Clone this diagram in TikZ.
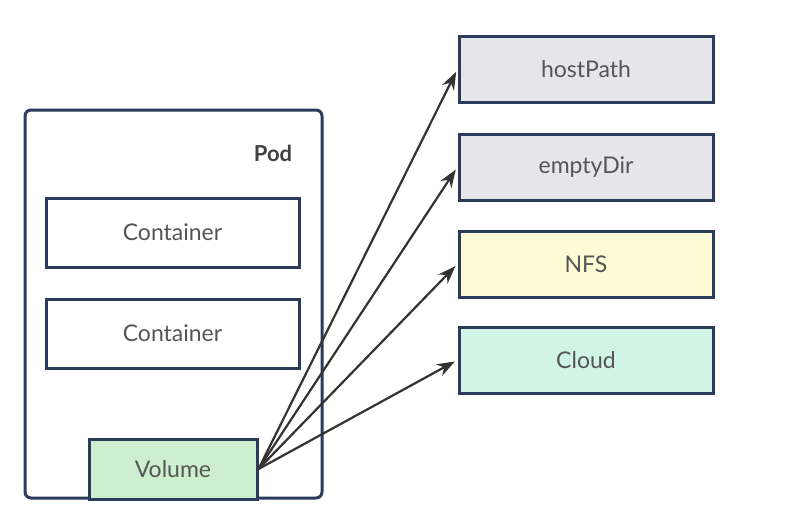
\documentclass[tikz,border=0pt]{standalone}
\usepackage{fontspec}
\setmainfont{Lato}
\usetikzlibrary{arrows.meta,positioning}
\definecolor{navy}{HTML}{2A3B5C}
\definecolor{txtgray}{HTML}{555555}
\definecolor{hostgray}{HTML}{E6E6EA}
\definecolor{nfsyellow}{HTML}{FFFAD6}
\definecolor{cloudgreen}{HTML}{D0F4E6}
\definecolor{volgreen}{HTML}{CDEFCF}
\tikzset{
diagram/.style={x=1pt,y=-1pt,line width=3pt,
    font=\fontsize{23}{27}\selectfont},
box/.style={rectangle,draw=navy,fill=white,text=txtgray,
    minimum width=253pt,minimum height=69pt,inner sep=0pt},
store/.style={box,minimum width=254pt,minimum height=66pt,fill=#1},
store/.default={hostgray},
pod/.style={rectangle,rounded corners=6pt,draw=navy,
    minimum width=297pt,minimum height=388pt},
link/.style={-{Stealth[length=18pt,width=13pt]},line width=2.2pt,
    draw=black!80,shorten >=3pt},
}
\begin{document}
\begin{tikzpicture}[diagram]
    \useasboundingbox (0,0) rectangle (794,522);

    \node[pod] (pod) at (173.5,304) {};
    \node[text=black!75,font=\fontsize{22}{26}\selectfont\bfseries]
        (podlabel) at (273,153) {Pod};
    \node[box] (c1) at (172.5,232.5) {Container};
    \node[box] (c2) at (172.5,333.5) {Container};
    \node[box,minimum width=168pt,minimum height=60pt,fill=volgreen]
        (vol) at (173,469) {Volume};

    \node[store] (host) at (586,69) {hostPath};
    \node[store] (empty) at (586,167) {emptyDir};
    \node[store=nfsyellow] (nfs) at (586,264) {NFS};
    \node[store=cloudgreen] (cloud) at (586,360) {Cloud};

    \path
        (vol.east) edge[link] (host.west)
        (vol.east) edge[link] (empty.west)
        (vol.east) edge[link] (nfs.west)
        (vol.east) edge[link] (cloud.west)
    ;
\end{tikzpicture}
\end{document}
